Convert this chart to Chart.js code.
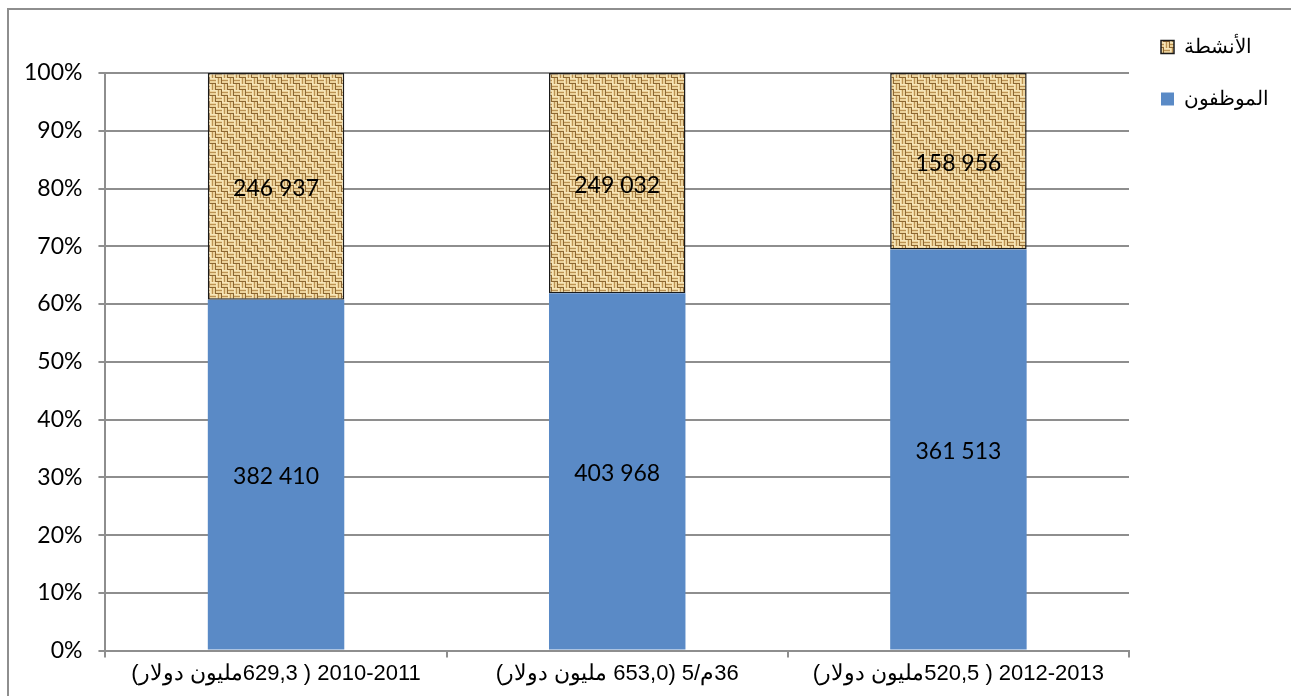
<!DOCTYPE html>
<html>
<head>
<meta charset="utf-8">
<script src="https://cdn.jsdelivr.net/npm/chart.js@4/dist/chart.umd.min.js"></script>
<style>
  html, body { margin: 0; padding: 0; background: #fff; }
  #cadre {
    position: absolute; left: 7px; top: 8px; width: 1400px; height: 800px;
    border-left: 2px solid #8e8e8e; border-top: 2px solid #8e8e8e;
  }
  #boite { position: absolute; left: 0; top: 0; width: 1291px; height: 696px; }
</style>
</head>
<body>
<div id="cadre"></div>
<div id="boite"><canvas id="grafico" width="1291" height="696"></canvas></div>
<script>
// categorias (eixo x) e valores em dolares
var categorias = [
  '2010-2011 ( 629,3مليون دولار)',
  '36م/5 (653,0 مليون دولار)',
  '2012-2013 ( 520,5مليون دولار)'
];
var serie_nomes = ['الموظفون', 'الأنشطة'];
var valores_funcionarios = [382410, 403968, 361513];
var valores_atividades = [246937, 249032, 158956];
var marcas_y = [0, 10, 20, 30, 40, 50, 60, 70, 80, 90, 100];

// PORCENTAGEM DE CADA PARTE DA COLUNA
function porcentagem(a, b) {
  var r = [];
  for (var i = 0; i < a.length; i++) {
    r.push(a[i] / (a[i] + b[i]) * 100);
  }
  return r;
}

function formata(n) {
  return n.toString().replace(/\B(?=(\d{3})+(?!\d))/g, ' ');
}

// TEXTURA DE SACO (JUTA) PARA A SEGUNDA SERIE
function textura() {
  var c = document.createElement('canvas');
  c.width = 12; c.height = 12;
  var g = c.getContext('2d');
  g.fillStyle = '#ecd39c';
  g.fillRect(0, 0, 12, 12);
  for (var bx = 0; bx < 2; bx++) {
    for (var by = 0; by < 2; by++) {
      var x0 = bx * 6, y0 = by * 6;
      if ((bx + by) % 2 == 0) {
        g.fillStyle = '#f6e6bb';
        g.fillRect(x0, y0, 6, 1);
        g.fillStyle = '#bb9253';
        g.fillRect(x0, y0 + 2, 6, 1);
        g.fillStyle = '#8c6631';
        g.fillRect(x0, y0 + 5, 6, 1);
      } else {
        g.fillStyle = '#f6e6bb';
        g.fillRect(x0, y0, 1, 6);
        g.fillStyle = '#bb9253';
        g.fillRect(x0 + 2, y0, 1, 6);
        g.fillStyle = '#8c6631';
        g.fillRect(x0 + 5, y0, 1, 6);
      }
    }
  }
  return g.createPattern(c, 'repeat');
}

var ctx = document.getElementById('grafico').getContext('2d');
var juta = textura();
var brutos = [valores_funcionarios, valores_atividades];

var rotulos = {
  id: 'rotulos',
  beforeDraw: function (chart) {
    // SOBE A LEGENDA PARA O CANTO DE CIMA
    chart.legend.top = 5;
  },
  afterDatasetsDraw: function (chart) {
    var c = chart.ctx;
    c.save();
    c.font = '23px Lato, Carlito, sans-serif';
    c.fillStyle = '#000';
    c.textAlign = 'center';
    c.textBaseline = 'middle';
    chart.data.datasets.forEach(function (ds, d) {
      chart.getDatasetMeta(d).data.forEach(function (bar, i) {
        c.fillText(formata(brutos[d][i]), bar.x, (bar.y + bar.base) / 2 + 2);
      });
    });
    c.restore();
  }
};

var grafico = new Chart(ctx, {
  type: 'bar',
  data: {
    labels: categorias.map(function (t) { return '\u202B' + t + '\u202C'; }),
    datasets: [
      {
        label: serie_nomes[0],
        data: porcentagem(valores_funcionarios, valores_atividades),
        backgroundColor: '#5a8ac6',
        borderWidth: 0
      },
      {
        label: serie_nomes[1],
        data: porcentagem(valores_atividades, valores_funcionarios),
        backgroundColor: juta,
        borderColor: '#1a1a1a',
        borderWidth: 1.5,
        borderSkipped: false
      }
    ]
  },
  options: {
    responsive: false,
    animation: false,
    barPercentage: 0.4,
    categoryPercentage: 1,
    layout: { padding: { left: 8, right: 12, top: 73, bottom: 6 } },
    plugins: {
      tooltip: { enabled: false },
      legend: {
        position: 'right',
        align: 'start',
        reverse: true,
        labels: {
          color: '#000',
          font: { family: 'Liberation Sans, Arial', size: 20 },
          boxWidth: 13,
          boxHeight: 13,
          padding: 32
        }
      }
    },
    scales: {
      x: {
        stacked: true,
        grid: { display: true, drawOnChartArea: false, color: '#8e8e8e', lineWidth: 2, tickLength: 7 },
        border: { color: '#8e8e8e', width: 2 },
        ticks: {
          color: '#000',
          maxRotation: 0,
          padding: 3,
          font: { family: 'Liberation Sans, Arial', size: 22 }
        }
      },
      y: {
        stacked: true,
        min: 0,
        max: 100,
        afterBuildTicks: function (axis) {
          axis.ticks = marcas_y.map(function (v) { return { value: v }; });
        },
        grid: { color: '#8e8e8e', lineWidth: 2, tickLength: 7 },
        border: { color: '#8e8e8e', width: 2 },
        ticks: {
          color: '#000',
          padding: 16,
          font: { family: 'Lato, Carlito, sans-serif', size: 23 },
          callback: function (v) { return v + '%'; }
        }
      }
    }
  },
  plugins: [rotulos]
});
</script>
</body>
</html>
